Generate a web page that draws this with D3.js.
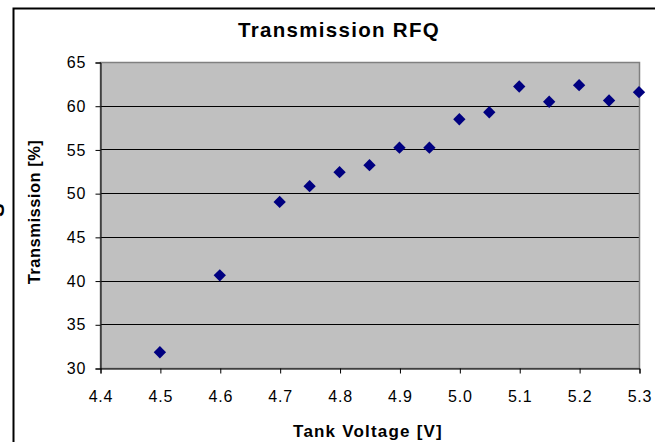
<!DOCTYPE html>
<html><head><meta charset="utf-8">
<script src="https://cdn.jsdelivr.net/npm/d3@7"></script>
<style>body{margin:0;background:#fff;} svg{display:block;}</style>
</head><body>
<svg id="c" width="655" height="442"></svg>
<script>
const voltage = [4.5, 4.6, 4.7, 4.75, 4.8, 4.85, 4.9, 4.95, 5.0, 5.05, 5.1, 5.15, 5.2, 5.25, 5.3];
const transmission = [31.8, 40.6, 49.0, 50.8, 52.4, 53.2, 55.2, 55.2, 58.45, 59.25, 62.2, 60.45, 62.35, 60.6, 61.55];
const xTicks = [4.4, 4.5, 4.6, 4.7, 4.8, 4.9, 5.0, 5.1, 5.2, 5.3];
const yTicks = [30, 35, 40, 45, 50, 55, 60, 65];

const svg = d3.select("#c");
const font = "Liberation Sans, Arial, sans-serif";
const L = 100, R = 639, T = 62, B = 368;

// chart border (cropped)
svg.append("path").attr("d", `M13.5,442 L13.5,8.5 L655,8.5`).attr("fill","none").attr("stroke","#000").attr("stroke-width",2);
// cropped fragment at far left
svg.append("text").attr("transform","translate(4,210) rotate(-90)").attr("text-anchor","middle")
  .attr("font-family",font).attr("font-weight","bold").attr("font-size",20).text("S");

const x = d3.scaleLinear().domain([4.4, 5.3]).range([L, R]);
const y = d3.scaleLinear().domain([30, 65]).range([B, T]);

svg.append("rect").attr("x",L).attr("y",T).attr("width",R-L).attr("height",B-T).attr("fill","#c0c0c0");

// gridlines
svg.append("g").selectAll("line").data(yTicks.slice(1,-1)).join("line")
  .attr("x1",L).attr("x2",R).attr("y1",d=>Math.round(y(d))+0.5).attr("y2",d=>Math.round(y(d))+0.5)
  .attr("stroke","#000").attr("stroke-width",1);

svg.append("rect").attr("x",L+0.5).attr("y",T+0.5).attr("width",R-L).attr("height",B-T)
  .attr("fill","none").attr("stroke","#808080").attr("stroke-width",1.5);

// axes
const yAxis = d3.axisLeft(y).tickValues(yTicks).tickSize(5).tickPadding(9).tickFormat(d3.format("d"));
const gy = svg.append("g").attr("transform",`translate(${L+0.5},0.5)`).call(yAxis);
gy.select(".domain").attr("stroke","#000");
gy.selectAll("text").attr("font-family",font).attr("font-size",16).attr("letter-spacing",1).attr("fill","#000");

const xAxis = d3.axisBottom(x).tickValues(xTicks).tickSize(5).tickPadding(17).tickFormat(d3.format(".1f"));
const gx = svg.append("g").attr("transform",`translate(0.5,${B+0.5})`).call(xAxis);
gx.select(".domain").attr("stroke","#000");
gx.selectAll("text").attr("font-family",font).attr("font-size",16).attr("letter-spacing",0.8).attr("fill","#000");

// points
const sym = d3.symbol().type(d3.symbolSquare).size(76);
svg.append("g").selectAll("path").data(voltage.map((v,i)=>[v,transmission[i]])).join("path")
  .attr("d", sym).attr("transform", d=>`translate(${x(d[0])},${y(d[1])}) rotate(45)`)
  .attr("fill","#000080");

// titles
svg.append("text").attr("x",339).attr("y",37).attr("text-anchor","middle")
  .attr("font-family",font).attr("font-weight","bold").attr("font-size",20.5).attr("letter-spacing",1.3).text("Transmission RFQ");
svg.append("text").attr("x",368).attr("y",437).attr("text-anchor","middle")
  .attr("font-family",font).attr("font-weight","bold").attr("font-size",17).attr("letter-spacing",1.2).text("Tank Voltage [V]");
svg.append("text").attr("transform","translate(40,212) rotate(-90)").attr("text-anchor","middle")
  .attr("font-family",font).attr("font-weight","bold").attr("font-size",16.5).attr("letter-spacing",0.5).text("Transmission [%]");
</script>
</body></html>
